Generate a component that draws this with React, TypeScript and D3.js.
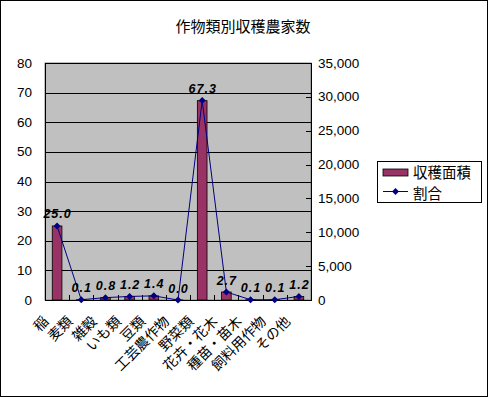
import React from 'react';
import * as d3 from 'd3';

const title = '作物類別収穫農家数';
const categories = ['稲', '麦類', '雑穀', 'いも類', '豆類', '工芸農作物', '野菜類', '花卉・花木', '種苗・苗木', '飼料用作物', 'その他'];
// 収穫面積 (right axis, bars)
const harvestArea = [10930, 40, 350, 520, 610, 10, 29440, 1180, 40, 40, 520];
// 割合 (left axis, line)
const share = [25.0, 0.1, 0.8, 1.2, 1.4, 0.0, 67.3, 2.7, 0.1, 0.1, 1.2];
const leftTicks = [0, 10, 20, 30, 40, 50, 60, 70, 80];
const rightTicks = [0, 5000, 10000, 15000, 20000, 25000, 30000, 35000];
const seriesNames = ['収穫面積', '割合'];

const W = 488;
const H = 397;
const plot = { left: 45, right: 311, top: 63, bottom: 300 };
const jp = '"Noto Sans CJK JP", sans-serif';
const num = '"Liberation Sans", Arial, sans-serif';

const App = () => {
  const x = d3.scaleBand<string>()
    .domain(categories)
    .range([plot.left, plot.right]);
  const yLeft = d3.scaleLinear().domain([0, 80]).range([plot.bottom, plot.top]);
  const yRight = d3.scaleLinear().domain([0, 35000]).range([plot.bottom, plot.top]);
  const barW = x.bandwidth() * 0.4;
  const cx = (c: string) => (x(c) as number) + x.bandwidth() / 2;

  const line = d3.line<number>()
    .x((_, i) => cx(categories[i]))
    .y(d => yLeft(d));

  const diamond = (px: number, py: number, r = 3.5) =>
    `M${px},${py - r}L${px + r},${py}L${px},${py + r}L${px - r},${py}Z`;

  const fmt = d3.format(',');

  return (
    <svg width={W} height={H} style={{ position: 'absolute', left: 0, top: 0, background: '#fff' }}>
      <rect x={0.5} y={0.5} width={W - 1} height={H - 1} fill="#fff" stroke="#000" />
      <text x={243} y={25} textAnchor="middle" dominantBaseline="central" fontFamily={jp} fontSize={15}>{title}</text>

      {/* plot area */}
      <rect x={plot.left} y={plot.top} width={plot.right - plot.left} height={plot.bottom - plot.top} fill="#c0c0c0" stroke="#808080" />

      {leftTicks.filter(t => t > 0).map(t => (
        <line key={'g' + t} x1={plot.left} x2={plot.right} y1={Math.round(yLeft(t)) + 0.5} y2={Math.round(yLeft(t)) + 0.5} stroke="#000" />
      ))}

      {/* bars */}
      {harvestArea.map((v, i) => (
        <rect key={'b' + i} x={cx(categories[i]) - barW / 2} y={yRight(v)} width={barW} height={plot.bottom - yRight(v)}
          fill="#993366" stroke="#000" strokeWidth={0.8} />
      ))}

      {/* axes */}
      <line x1={plot.left + 0.5} x2={plot.left + 0.5} y1={plot.top} y2={plot.bottom} stroke="#000" />
      <line x1={plot.right + 0.5} x2={plot.right + 0.5} y1={plot.top} y2={plot.bottom} stroke="#000" />
      <line x1={plot.left} x2={plot.right + 1} y1={plot.bottom + 0.5} y2={plot.bottom + 0.5} stroke="#000" />

      {categories.map((c, i) => i > 0 ? (
        <line key={'xt' + i} x1={Math.round(x(c) as number) + 0.5} x2={Math.round(x(c) as number) + 0.5} y1={plot.bottom - 5} y2={plot.bottom} stroke="#000" />
      ) : null)}

      {rightTicks.map(t => (
        <g key={'r' + t}>
          <line x1={plot.right - 5} x2={plot.right} y1={Math.round(yRight(t)) + 0.5} y2={Math.round(yRight(t)) + 0.5} stroke="#000" />
          <text x={318} y={yRight(t)} dominantBaseline="central" fontFamily={num} fontSize={13.5}>{fmt(t)}</text>
        </g>
      ))}

      {leftTicks.map(t => (
        <text key={'l' + t} x={32} y={yLeft(t)} textAnchor="end" dominantBaseline="central" fontFamily={num} fontSize={13.5}>{t}</text>
      ))}

      {/* line series */}
      <path d={line(share) || ''} fill="none" stroke="#000080" strokeWidth={1} />
      {share.map((v, i) => (
        <path key={'m' + i} d={diamond(cx(categories[i]), yLeft(v))} fill="#000080" />
      ))}
      {share.map((v, i) => (
        <text key={'v' + i} x={cx(categories[i]) + 0.5} y={yLeft(v) - 11.5} textAnchor="middle" dominantBaseline="central"
          fontFamily={num} fontSize={12.5} fontWeight="bold" fontStyle="italic" letterSpacing={1}>{v.toFixed(1)}</text>
      ))}

      {/* category labels */}
      {categories.map(c => {
        const ax = cx(c) - 12;
        const ay = 318;
        return (
          <text key={'c' + c} x={ax} y={ay} transform={`rotate(-45,${ax},${ay})`} textAnchor="end" dominantBaseline="central"
            fontFamily={jp} fontSize={14}>{c}</text>
        );
      })}

      {/* legend */}
      <rect x={377.5} y={161.5} width={104} height={41} fill="#fff" stroke="#000" />
      <rect x={383} y={169} width={25} height={7} fill="#993366" stroke="#000" strokeWidth={0.8} />
      <text x={413} y={171.5} dominantBaseline="central" fontFamily={jp} fontSize={14.5}>{seriesNames[0]}</text>
      <line x1={383} x2={408} y1={191.5} y2={191.5} stroke="#000080" />
      <path d={diamond(395.5, 191.5)} fill="#000080" />
      <text x={413} y={192.5} dominantBaseline="central" fontFamily={jp} fontSize={14.5}>{seriesNames[1]}</text>
    </svg>
  );
};

export default App;
